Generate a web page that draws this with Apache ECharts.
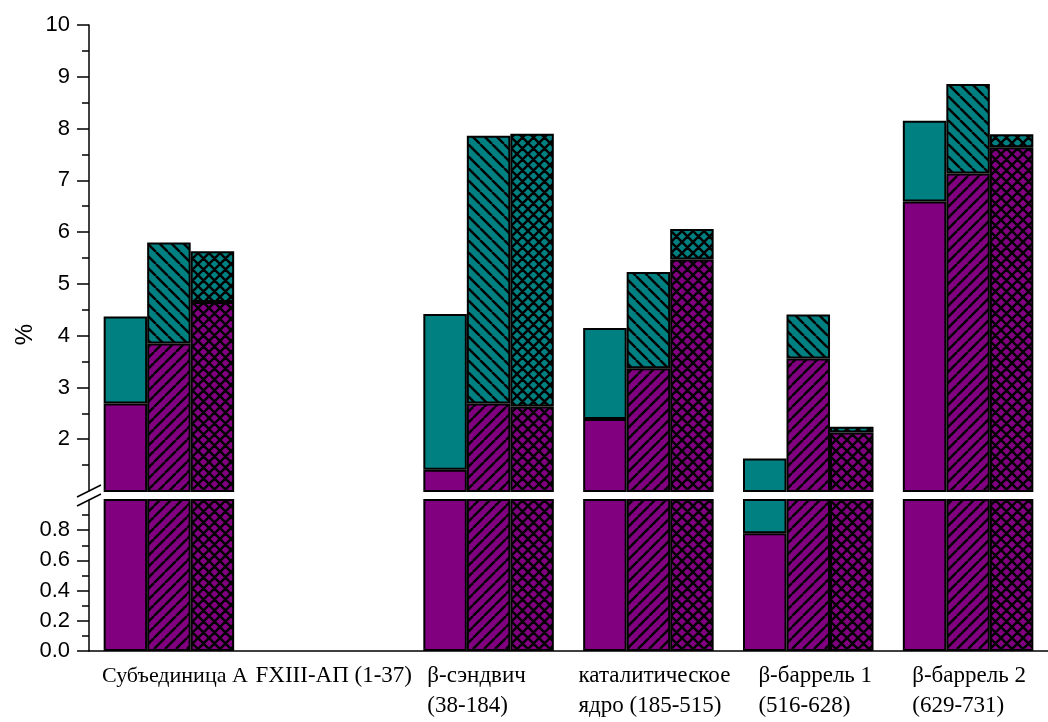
<!DOCTYPE html>
<html>
<head>
<meta charset="utf-8">
<script src="https://cdn.jsdelivr.net/npm/echarts@6/dist/echarts.min.js"></script>
<style>
  html, body { margin: 0; padding: 0; background: #fff; }
  #chart { width: 1048px; height: 722px; }
</style>
</head>
<body>
<div id="chart"></div>
<script>
// categories along the x axis
const categories = [
  'Субъединица А',
  'FXIII-АП (1-37)',
  'β-сэндвич\n(38-184)',
  'каталитическое\nядро (185-515)',
  'β-баррель 1\n(516-628)',
  'β-баррель 2\n(629-731)'
];

// stacked parts, % (purple bottom, teal on top)
const purpleSolid = [2.69, null, 1.41, 2.39, 0.78, 6.59];
const tealSolid = [1.68, null, 3.01, 1.76, 0.85, 1.56];
const purpleHatch = [3.85, null, 2.69, 3.37, 3.56, 7.13];
const tealHatch = [1.95, null, 5.17, 1.86, 0.85, 1.73];
const purpleCross = [4.65, null, 2.63, 5.47, 2.13, 7.64];
const tealCross = [0.98, null, 5.27, 0.59, 0.11, 0.25];

// tick labels of the two parts of the broken y axis
const upperTicks = [2, 3, 4, 5, 6, 7, 8, 9, 10];
const lowerTicks = [0, 0.2, 0.4, 0.6, 0.8];

// small horizontal nudges (px) and sizes of the category labels, as placed in the original
const labelShift = [6, 5, -12, 6, 7, 1];
const labelSize = [22, 23, 23, 23, 23, 23];

const PURPLE = '#800080';
const TEAL = '#008080';
const LEFT = 89;
const WIDTH = 969;
const UP_TOP = 25, UP_H = 466;
const LO_TOP = 500, LO_H = 151;

function makePattern(bg, kind, s) {
  const c = document.createElement('canvas');
  c.width = s; c.height = s;
  const ctx = c.getContext('2d');
  ctx.fillStyle = bg;
  ctx.fillRect(0, 0, s, s);
  ctx.strokeStyle = '#000';
  ctx.lineWidth = 2.4;
  ctx.beginPath();
  for (let k = -1; k <= 1; k++) {
    if (kind === 'fwd' || kind === 'cross') {
      ctx.moveTo(k * s, s); ctx.lineTo((k + 1) * s, 0);
    }
    if (kind === 'back' || kind === 'cross') {
      ctx.moveTo(k * s, 0); ctx.lineTo((k + 1) * s, s);
    }
  }
  ctx.stroke();
  return { image: c, repeat: 'repeat' };
}

const fills = {
  purpleSolid: PURPLE,
  tealSolid: TEAL,
  purpleHatch: makePattern(PURPLE, 'fwd', 11),
  tealHatch: makePattern(TEAL, 'back', 12),
  purpleCross: makePattern(PURPLE, 'cross', 11),
  tealCross: makePattern(TEAL, 'cross', 11)
};

const parts = [
  ['purpleSolid', purpleSolid, 'a'],
  ['tealSolid', tealSolid, 'a'],
  ['purpleHatch', purpleHatch, 'b'],
  ['tealHatch', tealHatch, 'b'],
  ['purpleCross', purpleCross, 'c'],
  ['tealCross', tealCross, 'c']
];

const series = [];
[0, 1].forEach(function (g) {
  parts.forEach(function (p) {
    series.push({
      type: 'bar',
      name: p[0],
      xAxisIndex: g,
      yAxisIndex: g,
      stack: p[2] + g,
      data: p[1],
      barWidth: 43.5,
      barGap: '0%',
      clip: true,
      silent: true,
      itemStyle: { color: fills[p[0]], borderColor: '#000', borderWidth: 2 }
    });
  });
});

const axisBlack = { lineStyle: { color: '#000', width: 1.5 } };
const yLabel = { color: '#000', fontFamily: 'Liberation Sans', fontSize: 22, margin: 19 };

const rich = {};
labelShift.forEach(function (d, i) {
  rich['t' + i] = {
    fontFamily: 'Liberation Serif', fontSize: labelSize[i], lineHeight: 30, color: '#000', align: 'left',
    padding: d >= 0 ? [0, 0, 0, 2 * d] : [0, -2 * d, 0, 0]
  };
});

function labelRich(value, index) {
  return value.split('\n').map(function (l) { return '{t' + index + '|' + l + '}'; }).join('\n');
}

const myChart = echarts.init(document.getElementById('chart'));
myChart.setOption({
  animation: false,
  backgroundColor: '#fff',
  grid: [
    { left: LEFT, width: WIDTH, top: UP_TOP, height: UP_H },
    { left: LEFT, width: WIDTH, top: LO_TOP, height: LO_H }
  ],
  xAxis: [
    { type: 'category', gridIndex: 0, data: categories, show: false },
    {
      type: 'category', gridIndex: 1, data: categories,
      axisLine: axisBlack,
      axisTick: { alignWithLabel: true, length: 10, lineStyle: { color: '#000', width: 1.5 } },
      axisLabel: { interval: 0, margin: 10, formatter: labelRich, rich: rich }
    }
  ],
  yAxis: [
    {
      type: 'value', gridIndex: 0, min: 1, max: 10, interval: 1,
      axisLine: { show: true, lineStyle: { color: '#000', width: 1.5 } },
      axisTick: { show: true, length: 12, customValues: upperTicks, lineStyle: { color: '#000', width: 1.5 } },
      minorTick: { show: true, splitNumber: 2, length: 7, lineStyle: { color: '#000', width: 1.5 } },
      axisLabel: Object.assign({ customValues: upperTicks }, yLabel),
      splitLine: { show: false }
    },
    {
      type: 'value', gridIndex: 1, min: 0, max: 1, interval: 0.2,
      axisLine: { show: true, lineStyle: { color: '#000', width: 1.5 } },
      axisTick: { show: true, length: 12, customValues: lowerTicks, lineStyle: { color: '#000', width: 1.5 } },
      minorTick: { show: true, splitNumber: 2, length: 7, lineStyle: { color: '#000', width: 1.5 } },
      axisLabel: Object.assign({ customValues: lowerTicks, formatter: function (v) { return v.toFixed(1); } }, yLabel),
      splitLine: { show: false }
    }
  ],
  graphic: [
    {
      type: 'text', left: 13, top: 324, rotation: Math.PI / 2,
      style: { text: '%', font: '24px "Liberation Sans"', fill: '#000' }
    },
    {
      type: 'line', shape: { x1: LEFT - 12, y1: UP_TOP + UP_H + 6, x2: LEFT + 12, y2: UP_TOP + UP_H - 6 },
      style: { stroke: '#000', lineWidth: 1.5 }
    },
    {
      type: 'line', shape: { x1: LEFT - 12, y1: LO_TOP + 6, x2: LEFT + 12, y2: LO_TOP - 6 },
      style: { stroke: '#000', lineWidth: 1.5 }
    }
  ],
  series: series
});
</script>
</body>
</html>
